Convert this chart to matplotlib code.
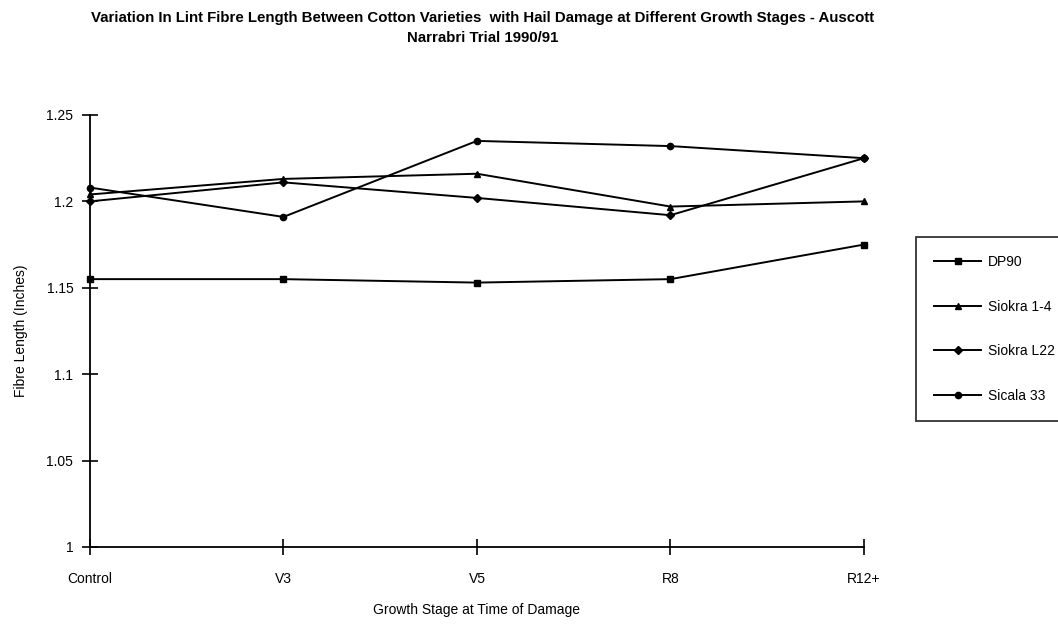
import matplotlib
matplotlib.use("Agg")
import matplotlib.pyplot as plt

plt.rcParams['font.family'] = ['Liberation Sans', 'DejaVu Sans']

stages = ["Control", "V3", "V5", "R8", "R12+"]
dp90 = [1.155, 1.155, 1.153, 1.155, 1.175]
siokra_14 = [1.204, 1.213, 1.216, 1.197, 1.200]
siokra_l22 = [1.200, 1.211, 1.202, 1.192, 1.225]
sicala_33 = [1.208, 1.191, 1.235, 1.232, 1.225]

series = [
    ("DP90", dp90, "s", 4.5),
    ("Siokra 1-4", siokra_14, "^", 5),
    ("Siokra L22", siokra_l22, "D", 4),
    ("Sicala 33", sicala_33, "o", 4.5),
]

fig = plt.figure(figsize=(10.58, 6.29), dpi=100)
ax = fig.add_axes([0.085, 0.1304, 0.7316, 0.6868])

x = list(range(len(stages)))
handles = []
for name, vals, mk, ms in series:
    (h,) = ax.plot(x, vals, color="black", lw=1.4, marker=mk, markersize=ms,
                   label=name, clip_on=False)
    handles.append(h)

ax.set_xlim(0, 4)
ax.set_ylim(1.0, 1.25)
ax.set_xticks(x)
ax.set_xticklabels(stages)
ax.set_yticks([1.0, 1.05, 1.1, 1.15, 1.2, 1.25])
ax.set_yticklabels(["1", "1.05", "1.1", "1.15", "1.2", "1.25"])
for s in ["top", "right"]:
    ax.spines[s].set_visible(False)
for s in ["left", "bottom"]:
    ax.spines[s].set_linewidth(1.3)
ax.tick_params(axis="both", direction="inout", length=12, width=1.2, labelsize=10)
ax.tick_params(axis="x", pad=12)
ax.tick_params(axis="y", pad=6)

ax.set_xlabel("Growth Stage at Time of Damage", fontsize=10, labelpad=12)
ax.set_ylabel("Fibre Length (Inches)", fontsize=10)
ax.yaxis.set_label_coords(-0.08, 0.5)

fig.text(0.4565, 0.971, "Variation In Lint Fibre Length Between Cotton Varieties  with Hail Damage at Different Growth Stages - Auscott",
         ha="center", va="center", fontsize=10.8, fontweight="bold")
fig.text(0.4565, 0.939, "Narrabri Trial 1990/91", ha="center", va="center",
         fontsize=10.8, fontweight="bold")

leg = fig.legend(handles=handles, loc="upper left",
                 bbox_to_anchor=(916 / 1058, 1 - 237 / 629),
                 frameon=True, fancybox=False, fontsize=10,
                 handlelength=3.4, labelspacing=2.2, borderpad=1.3,
                 handletextpad=0.5, borderaxespad=0)
leg.get_frame().set_edgecolor("black")
leg.get_frame().set_linewidth(1.3)

fig.savefig("out.png", dpi=100)
